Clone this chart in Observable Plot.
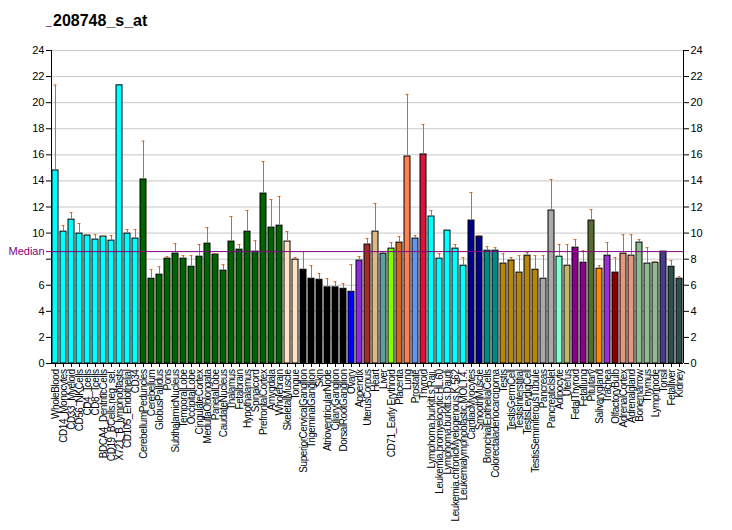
<!DOCTYPE html>
<html>
<head>
<meta charset="utf-8">
<script src="https://cdn.jsdelivr.net/npm/d3@7"></script>
<script src="https://cdn.jsdelivr.net/npm/@observablehq/plot@0.6"></script>
<style>
  body { margin: 0; background: white; font-family: "Liberation Sans", Arial, sans-serif; }
  #wrap { position: relative; width: 732px; height: 530px; }
  #title { position: absolute; left: 53px; top: 12px; font-size: 16px; font-weight: bold; color: #000; line-height: 18px; }
  #mark { position: absolute; left: 46px; top: 16px; font-size: 10px; color: #800080; line-height: 12px; }
  #chart { position: absolute; left: 0; top: 40px; }
  #chart svg g[aria-label="x-axis tick label"] text { letter-spacing: -0.45px; }
</style>
</head>
<body>
<div id="wrap">
  <div id="mark">_</div>
  <div id="title">208748_s_at</div>
  <div id="chart"></div>
</div>
<script>
const labels = [
  "WholeBlood","CD14_Monocytes","CD33_Myeloid","CD56_NKCells","CD4_Tcells","CD8_Tcells",
  "BDCA4_DentriticCells","CD19_BCells.neg_sel.","X721_B_lymphoblasts","CD105_Endothelial","CD34",
  "CerebellumPeduncles","Cerebellum","GlobusPallidus","Pons","SubthalamicNucleus","TemporalLobe",
  "OccipitalLobe","CingulateCortex","MedullaOblongata","ParietalLobe","CaudateNucleus","Thalamus",
  "Fetalbrain","Hypothalamus","Spinalcord","PrefrontalCortex","Amygdala","Wholebrain",
  "SkeletalMuscle","Tongue","SuperiorCervicalGanglion","TrigeminalGanglion","Skin",
  "AtrioventricularNode","CiliaryGanglion","DorsalRootGanglion","Ovary","Appendix","UterusCorpus",
  "Heart","Liver","CD71_Early Erythroid","Placenta","Lung","Prostate","Thyroid",
  "Lymphoma.burkitt.s.Raji.","Leukemia.promyelocytic.HL.60","Lymphoma.burkitt.s.Daudi",
  "Leukemia.chronicMyelogenous.K.562","Leukemialymphoblastic.MOLT.4.","CardiacMyocytes",
  "SmoothMuscle","BronchialEpithelialCells","Colorectaladenocarcinoma","Testis","TestisGermCell",
  "TestisInterstitial","TestisLeydigCell","TestisSeminiferousTubule","Pancreas","PancreaticIslet",
  "Adipocyte","Uterus","FetalThyroid","Fetallung","Pituitary","Salivarygland","Trachea",
  "OlfactoryBulb","AdrenalCortex","Adrenalgland","Bonemarrow","Thymus","Lymphnode","Tonsil",
  "Fetalliver","Kidney"
];
const values = [
  14.8,10.11,11.03,9.96,9.81,9.5,9.73,9.42,21.33,9.96,9.58,
  14.11,6.5,6.81,8.04,8.42,8.04,7.42,8.19,9.19,8.35,7.12,9.35,8.73,10.11,8.58,13.03,10.42,10.57,
  9.35,7.96,7.19,6.5,6.42,5.84,5.84,5.73,5.5,7.89,9.12,10.11,8.42,8.81,9.27,15.87,9.58,16.03,
  11.27,8.04,10.19,8.81,7.5,10.96,9.73,8.65,8.65,7.66,7.89,6.97,8.27,7.19,6.5,11.73,
  8.19,7.5,8.88,7.73,10.96,7.27,8.27,6.97,8.42,8.27,9.27,7.66,7.73,8.58,7.42,6.5
];
const errs = [
  21.35,10.57,11.57,10.73,9.88,9.88,9.78,9.81,null,10.27,10.27,
  17.05,7.19,7.42,8.19,9.19,8.27,8.27,9.12,10.42,8.42,7.58,11.27,9.12,11.73,9.42,15.49,12.57,12.8,
  10.11,8.12,8.58,7.5,6.89,6.5,6.27,6.12,7.58,8.19,9.58,12.27,8.58,9.27,9.73,20.63,9.81,18.33,
  11.73,8.42,null,9.12,8.12,13.11,9.81,8.96,8.88,8.42,8.12,8.27,8.5,8.27,8.27,14.11,
  9.12,9.12,9.5,8.65,11.8,7.5,9.27,8.12,9.88,9.88,9.5,8.88,7.81,null,7.89,6.65
];
const colors = [
  ...Array(11).fill("#00FFFF"),
  ...Array(18).fill("#006400"),
  "#FFE4C4","#FFE4C4",
  ...Array(6).fill("#000000"),
  "#0000FF","#8A2BE2","#A52A2A","#DEB887","#5F9EA0","#7FFF00","#D2691E","#FF7F50","#6495ED","#DC143C",
  ...Array(5).fill("#00FFFF"),
  "#00008B","#00008B","#008B8B","#008B8B",
  ...Array(5).fill("#B8860B"),
  "#A9A9A9","#A9A9A9","#7FFFD4","#BDB76B","#8B008B","#8B008B","#556B2F","#FF8C00","#9932CC","#8B0000",
  "#E9967A","#E9967A","#8FBC8F","#8FBC8F","#8FBC8F","#483D8B","#2F4F4F","#2F4F4F"
];
const median = 8.58;
const yTicks = [0,2,4,6,8,10,12,14,16,18,20,22,24];

const data = labels.map((name, i) => ({name, value: values[i], err: errs[i], color: colors[i]}));
const errData = data.filter(d => d.err != null);
const errColor = "#D2691E";

const chart = Plot.plot({
  width: 732,
  height: 490,
  marginLeft: 51,
  marginRight: 49,
  marginTop: 10,
  marginBottom: 167,
  style: {fontFamily: "'Liberation Sans', Arial, sans-serif", fontSize: "11px", background: "white", color: "black"},
  x: {domain: labels, paddingInner: 0.25, paddingOuter: 0.125},
  y: {domain: [0, 24]},
  color: {type: "identity"},
  marks: [
    Plot.gridY(yTicks, {stroke: "#c8c8c8", strokeOpacity: 1}),
    Plot.barY(data, {x: "name", y: "value", fill: "color", stroke: "black", strokeWidth: 1}),
    Plot.ruleX(errData, {x: "name", y1: "value", y2: "err", stroke: errColor, strokeWidth: 1}),
    Plot.tickY(errData, {x: "name", y: "err", stroke: errColor, strokeWidth: 1, insetLeft: 1.5, insetRight: 1.5}),
    Plot.ruleY([median], {stroke: "#800080", strokeWidth: 1, insetLeft: -5}),
    Plot.text([median], {y: d => d, frameAnchor: "left", text: () => "Median", dx: -43, textAnchor: "start", fill: "#800080", fontSize: 11}),
    Plot.ruleY([0], {stroke: "black"}),
    Plot.ruleX([labels[0]], {stroke: "black", dx: -4}),
    Plot.ruleX([labels[labels.length - 1]], {stroke: "black", dx: 4}),
    Plot.axisY(yTicks, {anchor: "left", tickSize: 5, tickPadding: 2, label: null, fontSize: 11,
      tickFormat: d => (d === 8 ? "" : String(d))}),
    Plot.axisY(yTicks, {anchor: "right", tickSize: 5, tickPadding: 2, label: null, fontSize: 11}),
    Plot.axisX({tickRotate: -90, tickSize: 4, tickPadding: 2, label: null, fontSize: 10})
  ]
});
document.getElementById("chart").appendChild(chart);
</script>
</body>
</html>
